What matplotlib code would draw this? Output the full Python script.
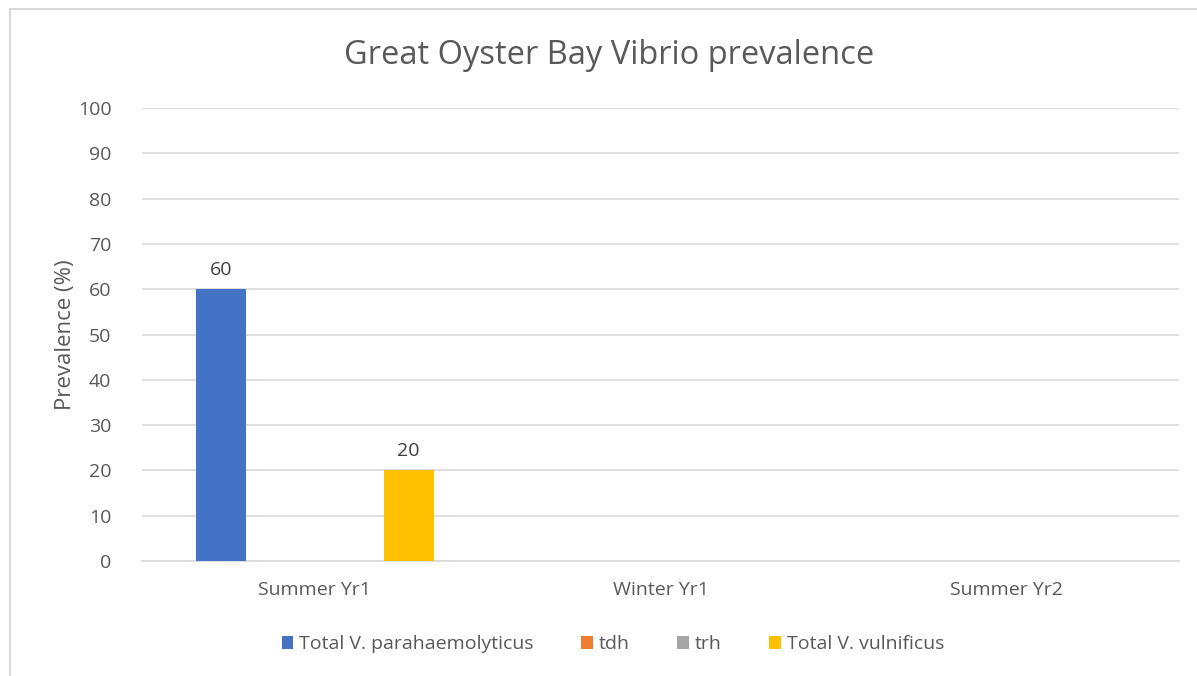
import numpy as np
import matplotlib.pyplot as plt
from matplotlib.patches import Rectangle

categories = ['Summer Yr1', 'Winter Yr1', 'Summer Yr2']
series_names = ['Total V. parahaemolyticus', 'tdh', 'trh', 'Total V. vulnificus']
vp_total = [60, 0, 0]
tdh = [0, 0, 0]
trh = [0, 0, 0]
vv_total = [20, 0, 0]
colors = ['#4472C4', '#ED7D31', '#A5A5A5', '#FFC000']

text_col = '#595959'
plt.rcParams['font.family'] = ['Open Sans', 'DejaVu Sans']

fig = plt.figure(figsize=(11.97, 6.76), dpi=100)
ax = fig.add_axes([0.1186, 0.170, 0.8664, 0.670])

x = np.arange(len(categories))
step = 0.181
width = 0.1446
for i, (vals, c) in enumerate(zip([vp_total, tdh, trh, vv_total], colors)):
    pos = x + (i - 1.5) * step
    bars = ax.bar(pos, vals, width, color=c, label=series_names[i], zorder=3)
    for b, v in zip(bars, vals):
        if v:
            ax.text(b.get_x() + b.get_width() / 2, v + 2.3, str(v),
                    ha='center', va='bottom', fontsize=14, color='#404040')

ax.set_xlim(-0.5, 2.5)
ax.set_ylim(0, 100)
ax.set_yticks(range(0, 101, 10))
ax.set_xticks(x)
ax.set_xticklabels(categories)
ax.grid(axis='y', color='#D9D9D9', linewidth=1.2, zorder=0)
for s in ['top', 'right', 'left']:
    ax.spines[s].set_visible(False)
ax.spines['bottom'].set_color('#D9D9D9')
ax.spines['bottom'].set_linewidth(1.2)
ax.tick_params(length=0, labelsize=14, colors=text_col)
ax.tick_params(axis='y', pad=22)
ax.tick_params(axis='x', pad=14)
ax.set_ylabel('Prevalence (%)', fontsize=16, color=text_col, labelpad=1)

fig.text(0.509, 0.918, 'Great Oyster Bay Vibrio prevalence', ha='center', va='center',
         fontsize=23.5, color=text_col)

fig.legend(loc='center', bbox_to_anchor=(0.512, 0.047), ncol=4, frameon=False,
           fontsize=14, handlelength=0.6, handleheight=0.6, handletextpad=0.3,
           columnspacing=2.45, labelcolor=text_col)

fig.patches.append(Rectangle((0.008, -0.01), 1.1, 0.996, transform=fig.transFigure,
                             fill=False, edgecolor='#D9D9D9', linewidth=1.5))

plt.savefig('out.png', dpi=100)
